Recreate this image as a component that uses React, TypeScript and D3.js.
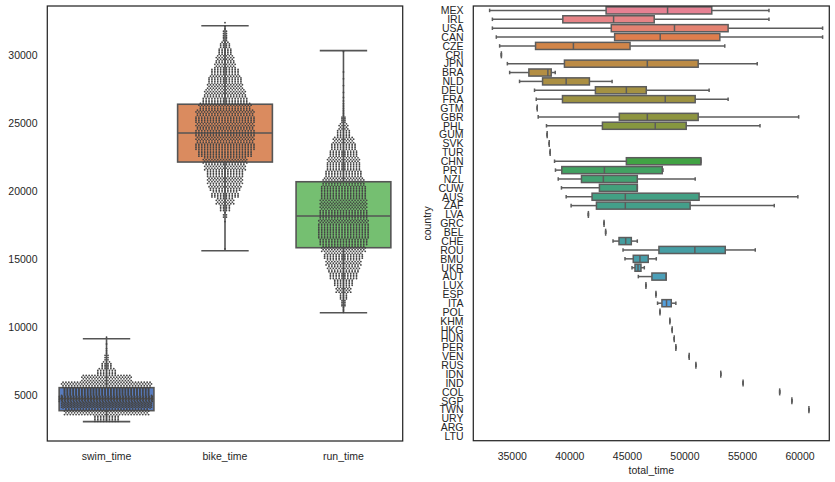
import React, { useEffect, useRef } from 'react';
import * as d3 from 'd3';

// ---------- Left panel data ----------
const timeCategories = ['swim_time', 'bike_time', 'run_time'];
const timeWhiskerLow = [3040, 15610, 11050];
const timeQ1 = [3850, 22130, 15830];
const timeMedian = [4720, 24270, 18160];
const timeQ3 = [5540, 26380, 20680];
const timeWhiskerHigh = [9140, 32150, 30320];
const timeBaseColors = ['#4878D0', '#EE854A', '#6ACC64'];
const leftTicks = [5000, 10000, 15000, 20000, 25000, 30000];

const swarmBinSize = 500;
const swimBinStart = 3000;
const swimCounts = [36, 118, 220, 260, 240, 125, 70, 27, 15, 6, 3, 1, 1];
const bikeBinStart = 15500;
const bikeCounts = [1, 0, 0, 0, 1, 5, 16, 26, 39, 45, 50, 52, 58, 62, 76, 84, 81, 84, 81, 84, 81, 73, 63, 58, 50, 47, 40, 30, 26, 20, 15, 8, 5, 2];
const runBinStart = 11000;
const runCounts = [3, 8, 12, 22, 28, 40, 45, 50, 55, 62, 68, 72, 72, 70, 68, 66, 66, 64, 63, 58, 52, 48, 46, 40, 36, 30, 20, 14, 8, 4, 3, 2, 1, 1, 1, 1, 0, 0, 1];

// ---------- Right panel data ----------
const countries = ['MEX', 'IRL', 'USA', 'CAN', 'CZE', 'CRI', 'JPN', 'BRA', 'NLD', 'DEU', 'FRA', 'GTM', 'GBR', 'PHL', 'GUM', 'SVK', 'TUR', 'CHN', 'PRT', 'NZL', 'CUW', 'AUS', 'ZAF', 'LVA', 'GRC', 'BEL', 'CHE', 'ROU', 'BMU', 'UKR', 'AUT', 'LUX', 'ESP', 'ITA', 'POL', 'KHM', 'HKG', 'HUN', 'PER', 'VEN', 'RUS', 'IDN', 'IND', 'COL', 'SGP', 'TWN', 'URY', 'ARG', 'LTU'];
const ctWhiskerLow = [33030, 33270, 33270, 33610, 33900, 34050, 34570, 34770, 35630, 36930, 37080, 37170, 37250, 37970, 38030, 38210, 38290, 38670, 38750, 38990, 39270, 39680, 40110, 41610, 42970, 43110, 43750, 44620, 44790, 45400, 45950, 46610, 47480, 47620, 47830, 48690, 48890, 49070, 49210, 50370, 50950, 53110, 55050, 58230, 59290, 60770, null, null, null];
const ctQ1 = [43150, 39390, 43600, 43890, 37020, 34050, 39530, 36440, 37630, 42220, 39360, 37170, 44300, 42830, 38030, 38210, 38290, 44910, 39300, 41010, 42570, 41930, 42310, 41610, 42970, 43110, 44270, 47740, 45510, 45660, 47130, 46610, 47480, 48000, 47830, 48690, 48890, 49070, 49210, 50370, 50950, 53110, 55050, 58230, 59290, 60770, null, null, null];
const ctMedian = [48490, 43800, 49090, 47850, 40310, 34050, 46730, 38090, 39680, 44910, 48290, 37170, 46730, 47420, 38030, 38210, 38290, 51380, 43000, 42910, 45860, 44820, 44820, 41610, 42970, 43110, 44850, 50860, 46090, 45920, 48370, 46610, 47480, 48400, 47830, 48690, 48890, 49070, 49210, 50370, 50950, 53110, 55050, 58230, 59290, 60770, null, null, null];
const ctQ3 = [52330, 47330, 53750, 53030, 45230, 34050, 51150, 38380, 41700, 46640, 50890, 37170, 51150, 50110, 38030, 38210, 38290, 51380, 48030, 45860, 45860, 51230, 50450, 41610, 42970, 43110, 45340, 53500, 46810, 46180, 48370, 46610, 47480, 48810, 47830, 48690, 48890, 49070, 49210, 50370, 50950, 53110, 55050, 58230, 59290, 60770, null, null, null];
const ctWhiskerHigh = [57300, 57300, 61960, 61960, 53460, 34050, 56280, 38730, 43670, 52100, 53750, 37170, 59880, 56520, 38030, 38210, 38290, 51380, 48090, 50890, 45860, 59810, 57760, 41610, 42970, 43110, 45860, 56110, 47510, 46470, 48370, 46610, 47480, 49210, 47830, 48690, 48890, 49070, 49210, 50370, 50950, 53110, 55050, 58230, 59290, 60770, null, null, null];
const rightTicks = [35000, 40000, 45000, 50000, 55000, 60000];

// ---------- colour helpers (HUSL like seaborn) ----------
const MM = [
  [3.240969941904521, -1.537383177570093, -0.498610760293],
  [-0.96924363628087, 1.87596750150772, 0.041555057407175],
  [0.055630079696993, -0.20397695888897, 1.056971514242878],
];
const refU = 0.19783000664283, refV = 0.46831999493879, kappa = 903.2962962, eps = 0.0088564516;
function getBounds(L: number) {
  const res: [number, number][] = [];
  const sub1 = Math.pow(L + 16, 3) / 1560896;
  const sub2 = sub1 > eps ? sub1 : L / kappa;
  for (const [m1, m2, m3] of MM) {
    for (const t of [0, 1]) {
      const top1 = (284517 * m1 - 94839 * m3) * sub2;
      const top2 = (838422 * m3 + 769860 * m2 + 731718 * m1) * L * sub2 - 769860 * t * L;
      const bottom = (632260 * m3 - 126452 * m2) * sub2 + 126452 * t;
      res.push([top1 / bottom, top2 / bottom]);
    }
  }
  return res;
}
function maxChroma(L: number, H: number) {
  const hr = (H / 360) * Math.PI * 2;
  let min = Infinity;
  for (const [s, i] of getBounds(L)) {
    const len = i / (Math.sin(hr) - s * Math.cos(hr));
    if (len >= 0) min = Math.min(min, len);
  }
  return min;
}
function huslToRgb(H: number, S: number, L: number) {
  const C = (maxChroma(L, H) / 100) * S;
  const hr = (H / 360) * 2 * Math.PI;
  const U = Math.cos(hr) * C, V = Math.sin(hr) * C;
  const Y = L > 8 ? Math.pow((L + 16) / 116, 3) : L / kappa;
  const vu = U / (13 * L) + refU, vv = V / (13 * L) + refV;
  const X = 0 - (9 * Y * vu) / ((vu - 4) * vv - vu * vv);
  const Z = (9 * Y - 15 * vv * Y - vv * X) / (3 * vv);
  return MM.map((r) => r[0] * X + r[1] * Y + r[2] * Z)
    .map((c) => (c <= 0.0031308 ? 12.92 * c : 1.055 * Math.pow(c, 1 / 2.4) - 0.055))
    .map((c) => Math.max(0, Math.min(1, c)));
}
function desat(c: d3.RGBColor | string, p = 0.75) {
  const h = d3.hsl(c as any);
  h.s *= p;
  return h.formatHex();
}
function huslPalette(n: number) {
  return d3.range(n).map((i) => {
    const h = ((i / n + 0.01) % 1) * 359;
    const [r, g, b] = huslToRgb(h, 0.9 * 99, 0.65 * 99);
    return desat(d3.rgb(r * 255, g * 255, b * 255));
  });
}

const FONT = '"Liberation Sans", Arial, Helvetica, sans-serif';
const TEXT = '#262626';

export default function App() {
  const ref = useRef<SVGSVGElement>(null);
  useEffect(() => {
    const svg = d3.select(ref.current!);
    svg.selectAll('*').remove();
    svg.append('rect').attr('width', 835).attr('height', 482).attr('fill', '#fff');

    // ================= LEFT PANEL =================
    const L = { x0: 47.3, x1: 402.7, y0: 6, y1: 441 };
    const lx = d3.scaleBand<string>().domain(timeCategories).range([L.x0, L.x1]);
    const ly = d3.scaleLinear().domain([1618, 33603]).range([L.y1, L.y0]);
    const bw = lx.bandwidth() * 0.8;
    const lgray = '#555555';
    const gl = svg.append('g');
    const swarms = [
      { start: swimBinStart, counts: swimCounts },
      { start: bikeBinStart, counts: bikeCounts },
      { start: runBinStart, counts: runCounts },
    ];
    timeCategories.forEach((c, i) => {
      const cx = (lx(c) as number) + lx.bandwidth() / 2;
      const col = desat(timeBaseColors[i]);
      const line = (x1: number, y1: number, x2: number, y2: number) =>
        gl.append('line').attr('x1', x1).attr('y1', y1).attr('x2', x2).attr('y2', y2)
          .attr('stroke', lgray).attr('stroke-width', 1.6);
      line(cx, ly(timeQ3[i]), cx, ly(timeWhiskerHigh[i]));
      line(cx, ly(timeQ1[i]), cx, ly(timeWhiskerLow[i]));
      line(cx - bw / 4, ly(timeWhiskerHigh[i]), cx + bw / 4, ly(timeWhiskerHigh[i]));
      line(cx - bw / 4, ly(timeWhiskerLow[i]), cx + bw / 4, ly(timeWhiskerLow[i]));
      gl.append('rect').attr('x', cx - bw / 2).attr('y', ly(timeQ3[i]))
        .attr('width', bw).attr('height', ly(timeQ1[i]) - ly(timeQ3[i]))
        .attr('fill', col).attr('stroke', lgray).attr('stroke-width', 1.6);
      line(cx - bw / 2, ly(timeMedian[i]), cx + bw / 2, ly(timeMedian[i]));
    });
    // swarm
    const spacing = 2.9;
    const rowsPerBin = 4;
    const maxPerRow = Math.floor(bw / spacing) + 1;
    const gs = svg.append('g');
    timeCategories.forEach((c, i) => {
      const cx = (lx(c) as number) + lx.bandwidth() / 2;
      const { start, counts } = swarms[i];
      counts.forEach((cnt, b) => {
        if (!cnt) return;
        const b0 = start + b * swarmBinSize;
        let perRow = Math.ceil(cnt / rowsPerBin);
        if (perRow > maxPerRow) perRow = maxPerRow;
        const rows = Math.ceil(cnt / perRow);
        let remaining = cnt;
        for (let r = 0; r < rows; r++) {
          const n = Math.round(remaining / (rows - r));
          remaining -= n;
          const yy = ly(b0 + ((r + 0.5) / rows) * swarmBinSize);
          const shift = n >= maxPerRow ? (r % 2 ? 0.5 : -0.5) * 0.5 * spacing : 0;
          for (let j = 0; j < n; j++) {
            let xx = cx + (j - (n - 1) / 2) * spacing + shift;
            xx = Math.max(cx - bw / 2, Math.min(cx + bw / 2, xx));
            gs.append('circle').attr('cx', xx).attr('cy', yy).attr('r', 0.9).attr('fill', '#454545');
          }
        }
      });
    });
    // frame
    svg.append('rect').attr('x', L.x0).attr('y', L.y0).attr('width', L.x1 - L.x0).attr('height', L.y1 - L.y0)
      .attr('fill', 'none').attr('stroke', '#262626').attr('stroke-width', 1.25);
    leftTicks.forEach((t) => {
      svg.append('text').attr('x', 37.5).attr('y', ly(t) + 3.8).attr('text-anchor', 'end')
        .attr('font-family', FONT).attr('font-size', 10.5).attr('fill', TEXT).text(String(t));
    });
    timeCategories.forEach((c) => {
      svg.append('text').attr('x', (lx(c) as number) + lx.bandwidth() / 2).attr('y', 459.5)
        .attr('text-anchor', 'middle').attr('font-family', FONT).attr('font-size', 10.5).attr('fill', TEXT).text(c);
    });

    // ================= RIGHT PANEL =================
    const R = { x0: 473.3, x1: 829.3, y0: 6, y1: 440.7 };
    const rx = d3.scaleLinear().domain([31612, 62541]).range([R.x0, R.x1]);
    const ry = d3.scaleBand<string>().domain(countries).range([R.y0, R.y1]);
    const bh = ry.bandwidth() * 0.8;
    const pal = huslPalette(countries.length);
    const rgray = '#5c5c5c';
    const gr = svg.append('g');
    countries.forEach((c, i) => {
      const lo = ctWhiskerLow[i], q1 = ctQ1[i], md = ctMedian[i], q3 = ctQ3[i], hi = ctWhiskerHigh[i];
      if (lo == null || q1 == null || md == null || q3 == null || hi == null) return;
      const cy = (ry(c) as number) + ry.bandwidth() / 2;
      const line = (x1: number, y1: number, x2: number, y2: number) =>
        gr.append('line').attr('x1', x1).attr('y1', y1).attr('x2', x2).attr('y2', y2)
          .attr('stroke', rgray).attr('stroke-width', 1.5);
      line(rx(lo), cy, rx(q1), cy);
      line(rx(q3), cy, rx(hi), cy);
      line(rx(lo), cy - bh / 4, rx(lo), cy + bh / 4);
      line(rx(hi), cy - bh / 4, rx(hi), cy + bh / 4);
      gr.append('rect').attr('x', rx(q1)).attr('y', cy - bh / 2)
        .attr('width', Math.max(0, rx(q3) - rx(q1))).attr('height', bh)
        .attr('fill', pal[i]).attr('stroke', rgray).attr('stroke-width', 1.5);
      line(rx(md), cy - bh / 2, rx(md), cy + bh / 2);
    });
    svg.append('rect').attr('x', R.x0).attr('y', R.y0).attr('width', R.x1 - R.x0).attr('height', R.y1 - R.y0)
      .attr('fill', 'none').attr('stroke', '#262626').attr('stroke-width', 1.25);
    countries.forEach((c) => {
      svg.append('text').attr('x', 463.5).attr('y', (ry(c) as number) + ry.bandwidth() / 2 + 3.8)
        .attr('text-anchor', 'end').attr('font-family', FONT).attr('font-size', 10.5).attr('fill', TEXT).text(c);
    });
    rightTicks.forEach((t) => {
      svg.append('text').attr('x', rx(t)).attr('y', 460).attr('text-anchor', 'middle')
        .attr('font-family', FONT).attr('font-size', 10.5).attr('fill', TEXT).text(String(t));
    });
    svg.append('text').attr('x', (R.x0 + R.x1) / 2).attr('y', 474).attr('text-anchor', 'middle')
      .attr('font-family', FONT).attr('font-size', 10.5).attr('fill', TEXT).text('total_time');
    svg.append('text').attr('transform', `translate(431,${(R.y0 + R.y1) / 2}) rotate(-90)`)
      .attr('text-anchor', 'middle').attr('font-family', FONT).attr('font-size', 10.5).attr('fill', TEXT).text('country');
  }, []);
  return <svg ref={ref} width={835} height={482} style={{ position: 'absolute', left: 0, top: 0, display: 'block' }} />;
}
